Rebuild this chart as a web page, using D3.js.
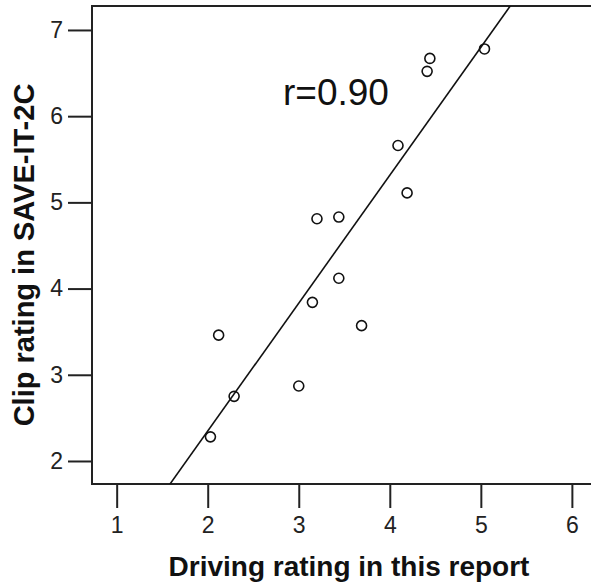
<!DOCTYPE html>
<html>
<head>
<meta charset="utf-8">
<script src="https://cdn.jsdelivr.net/npm/d3@7"></script>
<style>
  body { margin: 0; background: #fff; }
  svg { display: block; font-family: "Liberation Sans", Arial, sans-serif; }
</style>
</head>
<body>
<script>
// values
const drivingRating = [2.03, 2.12, 2.29, 3.00, 3.15, 3.20, 3.44, 3.44, 3.69, 4.09, 4.19, 4.41, 4.44, 5.04];
const clipRating    = [2.28, 3.46, 2.75, 2.87, 3.84, 4.81, 4.83, 4.12, 3.57, 5.66, 5.11, 6.52, 6.67, 6.78];
const xTicks = [1, 2, 3, 4, 5, 6];
const yTicks = [2, 3, 4, 5, 6, 7];
const fitLine = { slope: 1.484, intercept: -0.621 };
const rLabel = "r=0.90";

const w = 591, h = 583;
const padLeft = 92, padTop = 6, axisY = 484;

const svg = d3.select("body").append("svg")
  .attr("width", w)
  .attr("height", h);

const xScale = d3.scaleLinear().domain([0.729, 6.21]).range([padLeft, 591]);
const yScale = d3.scaleLinear().domain([1.733, 7.278]).range([axisY, padTop]);

const xAxis = d3.axisBottom(xScale).tickValues(xTicks).tickSize(24).tickPadding(9).tickFormat(d3.format("d"));
const yAxis = d3.axisLeft(yScale).tickValues(yTicks).tickSize(24).tickPadding(5).tickFormat(d3.format("d"));

const gx = svg.append("g")
  .attr("transform", "translate(0," + axisY + ")")
  .call(xAxis);
const gy = svg.append("g")
  .attr("transform", "translate(" + padLeft + ",0)")
  .call(yAxis);

[gx, gy].forEach(g => {
  g.attr("font-family", null).attr("font-size", null);
  g.select(".domain").remove();
  g.selectAll(".tick line").attr("stroke", "#222").attr("stroke-width", 2);
  g.selectAll(".tick text").attr("fill", "#222").style("font-size", "23px");
});

// frame: top, left, bottom
svg.append("path")
  .attr("d", "M600," + padTop + "H" + padLeft + "V" + axisY + "H600")
  .attr("fill", "none")
  .attr("stroke", "#222")
  .attr("stroke-width", 2);

// fit line clipped to the plot area
svg.append("clipPath").attr("id", "plot")
  .append("rect").attr("x", padLeft).attr("y", padTop).attr("width", w - padLeft).attr("height", axisY - padTop);

const x0 = 0.7, x1 = 6.3;
svg.append("line")
  .attr("clip-path", "url(#plot)")
  .attr("x1", xScale(x0)).attr("y1", yScale(fitLine.slope * x0 + fitLine.intercept))
  .attr("x2", xScale(x1)).attr("y2", yScale(fitLine.slope * x1 + fitLine.intercept))
  .attr("stroke", "#111")
  .attr("stroke-width", 1.6);

svg.selectAll("circle")
  .data(drivingRating)
  .enter()
  .append("circle")
  .attr("cx", d => xScale(d))
  .attr("cy", (d, i) => yScale(clipRating[i]))
  .attr("r", 5)
  .attr("fill", "none")
  .attr("stroke", "#111")
  .attr("stroke-width", 1.6);

svg.append("text")
  .attr("x", 283)
  .attr("y", 105)
  .text(rLabel)
  .attr("fill", "#111")
  .style("font-size", "37px");

svg.append("text")
  .attr("x", 349)
  .attr("y", 576)
  .attr("text-anchor", "middle")
  .text("Driving rating in this report")
  .attr("fill", "#111")
  .style("font-size", "28px")
  .style("font-weight", "bold");

svg.append("text")
  .attr("transform", "translate(34,255) rotate(-90)")
  .attr("text-anchor", "middle")
  .text("Clip rating in SAVE-IT-2C")
  .attr("fill", "#111")
  .style("font-size", "29px")
  .style("font-weight", "bold");
</script>
</body>
</html>
